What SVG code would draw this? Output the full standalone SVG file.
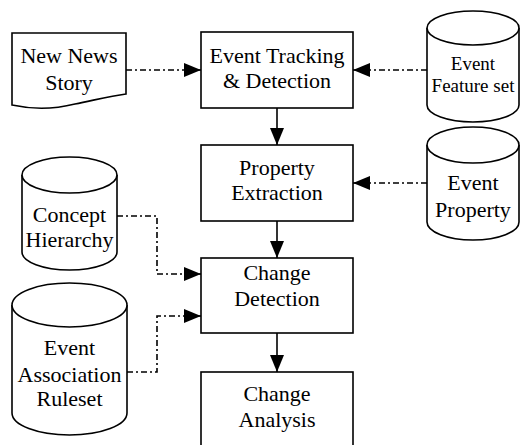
<svg xmlns="http://www.w3.org/2000/svg" width="520" height="445" viewBox="0 0 520 445">
  <defs>
    <marker id="arrow" viewBox="0 0 17 14" refX="17" refY="7" markerWidth="17" markerHeight="14" markerUnits="userSpaceOnUse" orient="auto">
      <path d="M0,0 L17,7 L0,14 Z" fill="#000"/>
    </marker>
  </defs>
  <style>
    .shape { fill: #fff; stroke: #000; stroke-width: 1.6; }
    .lbl { fill: #000; text-anchor: middle; }
    .flow { fill: none; stroke: #000; stroke-width: 1.6; marker-end: url(#arrow); }
    .dash { stroke-dasharray: 6 3 2 3; }
  </style>
  <rect width="520" height="445" fill="#fff"/>

  <!-- connectors -->
  <g id="connectors">
    <path class="flow dash" d="M126,70 H201"/>
    <path class="flow dash" d="M427,70 H353"/>
    <path class="flow dash" d="M427,183 H353"/>
    <path class="flow dash" d="M117,216 H157 V274 H201"/>
    <path class="flow dash" d="M127,372 H157 V316 H201"/>
    <path class="flow" d="M277,108 V145"/>
    <path class="flow" d="M277,221 V258"/>
    <path class="flow" d="M277,333 V372"/>
  </g>

  <g font-family="'Liberation Serif', 'Times New Roman', serif" font-size="22">
    <!-- document input -->
    <g id="new-news-story">
      <path class="shape" d="M12,33 H126 V94 C110,96 95,100 75,104 C55,109 35,110 12,105 Z"/>
      <text class="lbl" x="69" y="63">New News</text>
      <text class="lbl" x="69" y="90">Story</text>
    </g>

    <!-- process boxes -->
    <g id="event-tracking">
      <rect class="shape" x="201" y="32" width="152" height="76"/>
      <text class="lbl" x="277" y="63">Event Tracking</text>
      <text class="lbl" x="277" y="88">&amp; Detection</text>
    </g>
    <g id="property-extraction">
      <rect class="shape" x="201" y="145" width="152" height="76"/>
      <text class="lbl" x="277" y="175">Property</text>
      <text class="lbl" x="277" y="200">Extraction</text>
    </g>
    <g id="change-detection">
      <rect class="shape" x="201" y="258" width="152" height="75"/>
      <text class="lbl" x="277" y="280">Change</text>
      <text class="lbl" x="277" y="306">Detection</text>
    </g>
    <g id="change-analysis">
      <rect class="shape" x="201" y="372" width="152" height="78"/>
      <text class="lbl" x="277" y="401">Change</text>
      <text class="lbl" x="277" y="427">Analysis</text>
    </g>

    <!-- data stores -->
    <g id="event-feature-set">
      <path class="shape" d="M427,28 V105 A46,17 0 0 0 519,105 V28"/>
      <ellipse class="shape" cx="473" cy="28" rx="46" ry="17"/>
      <text class="lbl" x="473" y="70" font-size="19">Event</text>
      <text class="lbl" x="473" y="92" font-size="19">Feature set</text>
    </g>
    <g id="event-property">
      <path class="shape" d="M427,145 V222 A46,18 0 0 0 519,222 V145"/>
      <ellipse class="shape" cx="473" cy="145" rx="46" ry="18"/>
      <text class="lbl" x="473" y="190">Event</text>
      <text class="lbl" x="473" y="217">Property</text>
    </g>
    <g id="concept-hierarchy">
      <path class="shape" d="M22,175 V252 A47.5,18 0 0 0 117,252 V175"/>
      <ellipse class="shape" cx="69.5" cy="175" rx="47.5" ry="18"/>
      <text class="lbl" x="69.5" y="222">Concept</text>
      <text class="lbl" x="69.5" y="247">Hierarchy</text>
    </g>
    <g id="event-association-ruleset">
      <path class="shape" d="M12,305 V413 A57.5,22 0 0 0 127,413 V305"/>
      <ellipse class="shape" cx="69.5" cy="305" rx="57.5" ry="22"/>
      <text class="lbl" x="69.5" y="355">Event</text>
      <text class="lbl" x="69.5" y="382">Association</text>
      <text class="lbl" x="69.5" y="406">Ruleset</text>
    </g>
  </g>
</svg>
